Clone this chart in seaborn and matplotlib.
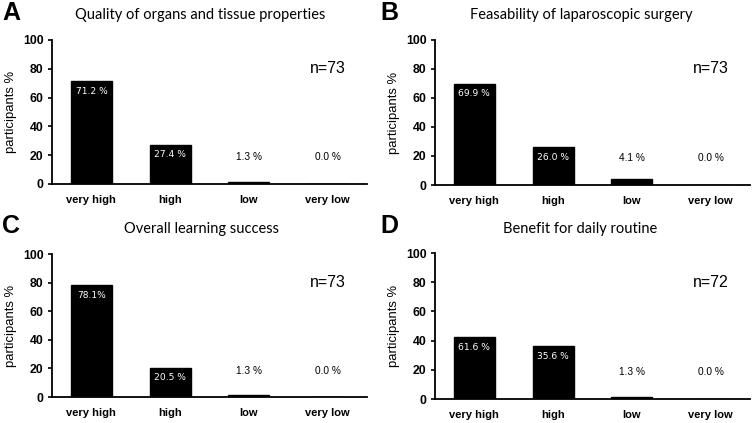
import matplotlib
matplotlib.use("Agg")
import matplotlib.pyplot as plt
import seaborn as sns
import pandas as pd

sns.set_style("ticks")
plt.rcParams['font.family'] = ['Liberation Sans', 'DejaVu Sans']
plt.rcParams['text.color'] = 'black'
plt.rcParams['axes.labelcolor'] = 'black'
plt.rcParams['xtick.color'] = 'black'
plt.rcParams['ytick.color'] = 'black'
plt.rcParams['axes.edgecolor'] = 'black'

categories = ["very high", "high", "low", "very low"]

titles = ["Quality of organs and tissue properties",
          "Feasability of laparoscopic surgery",
          "Overall learning success",
          "Benefit for daily routine"]
panel_letters = ["A", "B", "C", "D"]
n_labels = ["n=73", "n=73", "n=73", "n=72"]

# bar heights as drawn (%)
values_A = [71.2, 27.4, 1.3, 0.0]
values_B = [69.9, 26.0, 4.1, 0.0]
values_C = [78.1, 20.5, 1.3, 0.0]
values_D = [42.5, 36.3, 1.3, 0.0]

# printed value labels
labels_A = ["71.2 %", "27.4 %", "1.3 %", "0.0 %"]
labels_B = ["69.9 %", "26.0 %", "4.1 %", "0.0 %"]
labels_C = ["78.1%", "20.5 %", "1.3 %", "0.0 %"]
labels_D = ["61.6 %", "35.6 %", "1.3 %", "0.0 %"]

all_values = [values_A, values_B, values_C, values_D]
all_labels = [labels_A, labels_B, labels_C, labels_D]

W, H = 756, 423
fig = plt.figure(figsize=(W / 100, H / 100), dpi=100)

# axes boxes in pixels: left, top, right, bottom
boxes = [(52, 40, 367, 184), (435, 40, 750, 185),
         (52, 254, 367, 397), (435, 253, 750, 399)]
title_pos = [(200, 15), (581, 15), (202, 229), (580, 229)]
letter_pos = [(2, 13), (380, 13), (2, 226), (380, 226)]

for i in range(4):
    l, t, r, b = boxes[i]
    ax = fig.add_axes([l / W, (H - b) / H, (r - l) / W, (b - t) / H])
    df = pd.DataFrame({"category": categories, "value": all_values[i]})
    sns.barplot(data=df, x="category", y="value", color="black",
                width=0.52, ax=ax, saturation=1, edgecolor="black")
    ax.set_ylim(0, 100)
    ax.set_xlim(-0.5, 3.5)
    ax.set_yticks([0, 20, 40, 60, 80, 100])
    ax.set_xlabel("")
    ax.set_ylabel("participants %", fontsize=9.4, labelpad=4)
    for s in ["top", "right"]:
        ax.spines[s].set_visible(False)
    for s in ["left", "bottom"]:
        ax.spines[s].set_linewidth(1.3)
        ax.spines[s].set_color("black")
    ax.tick_params(axis="x", length=0, pad=8, labelsize=8.0)
    ax.tick_params(axis="y", length=3, width=1.2, pad=3, labelsize=8.8,
                   direction="out")
    for lab in ax.get_xticklabels() + ax.get_yticklabels():
        lab.set_fontweight("bold")
    for j, (v, txt) in enumerate(zip(all_values[i], all_labels[i])):
        if v > 10:
            ax.text(j, v - 7, txt, ha="center", va="center", color="white",
                    fontsize=6.6, family=["DejaVu Sans"])
        else:
            ax.text(j, 18.5, txt, ha="center", va="center", color="black",
                    fontsize=7.3)
    ax.text(3.0, 80, n_labels[i], ha="center", va="center", fontsize=11.5)
    fig.text(title_pos[i][0] / W, 1 - title_pos[i][1] / H, titles[i],
             ha="center", va="center", fontsize=10.5, family=["Lato"])
    fig.text(letter_pos[i][0] / W, 1 - letter_pos[i][1] / H, panel_letters[i],
             ha="left", va="center", fontsize=18, fontweight="bold")

fig.savefig("out.png", dpi=100)
